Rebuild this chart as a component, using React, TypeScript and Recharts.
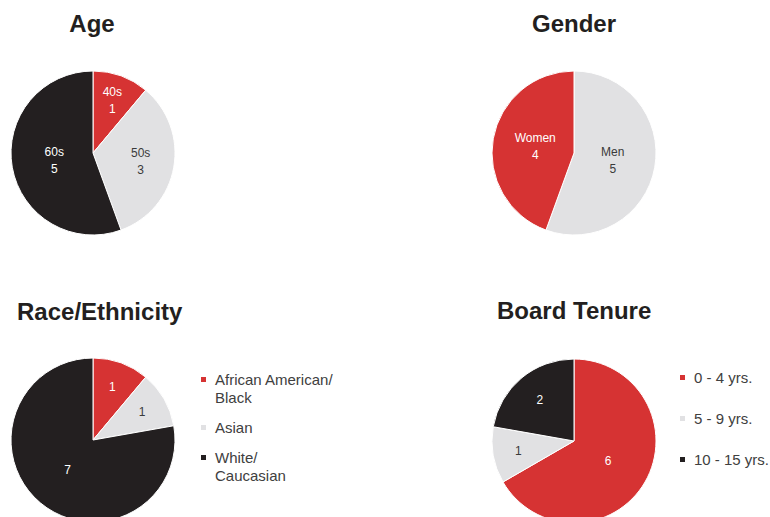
import React from 'react';
import { PieChart, Pie, Cell } from 'recharts';

const RED = '#D63333';
const LIGHT = '#E1E1E3';
const BLACK = '#231F20';

const ageNames = ['40s', '50s', '60s'];
const ageValues = [1, 3, 5];
const ageColors = [RED, LIGHT, BLACK];

const genderNames = ['Men', 'Women'];
const genderValues = [5, 4];
const genderColors = [LIGHT, RED];

const raceNames = ['African American/\nBlack', 'Asian', 'White/\nCaucasian'];
const raceValues = [1, 1, 7];
const raceColors = [RED, LIGHT, BLACK];

const tenureNames = ['0 - 4 yrs.', '5 - 9 yrs.', '10 - 15 yrs.'];
const tenureValues = [6, 1, 2];
const tenureColors = [RED, LIGHT, BLACK];

const FONT = '"Liberation Sans", Arial, sans-serif';
const RADIAN = Math.PI / 180;

const build = (names: string[], values: number[]) =>
  names.map((n, i) => ({ name: n, value: values[i] }));

const ratioFor = (p: number) => (p <= 0.12 ? 0.69 : p <= 0.25 ? 0.65 : p <= 0.4 ? 0.59 : 0.48);

const makeLabel = (colors: string[], showName: boolean) => (props: any) => {
  const { cx, cy, midAngle, outerRadius, percent, index, name, value } = props;
  const r = outerRadius * ratioFor(percent);
  const x = cx + r * Math.cos(-midAngle * RADIAN);
  const y = cy + r * Math.sin(-midAngle * RADIAN);
  const fill = colors[index] === LIGHT ? '#3a3a3a' : '#ffffff';
  if (showName) {
    return (
      <text x={x} y={y} textAnchor="middle" fill={fill} fontSize={12} fontFamily={FONT}>
        <tspan x={x} y={y - 4}>{name}</tspan>
        <tspan x={x} y={y + 13}>{value}</tspan>
      </text>
    );
  }
  return (
    <text x={x} y={y} textAnchor="middle" dominantBaseline="central" fill={fill} fontSize={12} fontFamily={FONT}>
      {value}
    </text>
  );
};

const SIZE = 180;
const R = 82;

function SinglePie({ cx, cy, names, values, colors, showName }: any) {
  const data = build(names, values);
  return (
    <div style={{ position: 'absolute', left: cx - SIZE / 2, top: cy - SIZE / 2, width: SIZE, height: SIZE }}>
      <PieChart width={SIZE} height={SIZE} margin={{ top: 0, right: 0, bottom: 0, left: 0 }}>
        <Pie
          data={data}
          dataKey="value"
          nameKey="name"
          cx={SIZE / 2}
          cy={SIZE / 2}
          outerRadius={R}
          startAngle={90}
          endAngle={-270}
          stroke="#ffffff"
          strokeWidth={1}
          labelLine={false}
          label={makeLabel(colors, showName)}
          isAnimationActive={false}
        >
          {data.map((d, i) => (
            <Cell key={d.name} fill={colors[i]} />
          ))}
        </Pie>
      </PieChart>
    </div>
  );
}

function LegendBlock({ x, y0, names, colors, lineH, gap }: any) {
  let y = y0;
  const items: any[] = [];
  names.forEach((n: string, i: number) => {
    const lines = n.split('\n');
    items.push(
      <g key={n}>
        <rect x={x - 14} y={y - 8} width={5} height={5} fill={colors[i]} />
        <text x={x} y={y} fontSize={15} fontFamily={FONT} fill="#404040">
          {lines.map((l, j) => (
            <tspan key={j} x={x} y={y + j * lineH}>{l}</tspan>
          ))}
        </text>
      </g>
    );
    y += lines.length * lineH + gap;
  });
  return <g>{items}</g>;
}

export default function App() {
  return (
    <div style={{ position: 'absolute', left: 0, top: 0, width: 770, height: 517, overflow: 'hidden', background: '#fff' }}>
      <SinglePie cx={93} cy={153} names={ageNames} values={ageValues} colors={ageColors} showName />
      <SinglePie cx={574} cy={153} names={genderNames} values={genderValues} colors={genderColors} showName />
      <SinglePie cx={93} cy={440} names={raceNames} values={raceValues} colors={raceColors} showName={false} />
      <SinglePie cx={574} cy={441} names={tenureNames} values={tenureValues} colors={tenureColors} showName={false} />
      <svg width={770} height={517} style={{ position: 'absolute', left: 0, top: 0, pointerEvents: 'none' }}>
        <g fontFamily={FONT} fontWeight="bold" fontSize={24} fill="#231F20">
          <text x={92} y={32} textAnchor="middle">Age</text>
          <text x={574} y={32} textAnchor="middle">Gender</text>
          <text x={17} y={320}>Race/Ethnicity</text>
          <text x={497} y={319}>Board Tenure</text>
        </g>
        <LegendBlock x={215} y0={385} names={raceNames} colors={raceColors} lineH={18} gap={12} />
        <LegendBlock x={694} y0={383} names={tenureNames} colors={tenureColors} lineH={18} gap={23} />
      </svg>
    </div>
  );
}
